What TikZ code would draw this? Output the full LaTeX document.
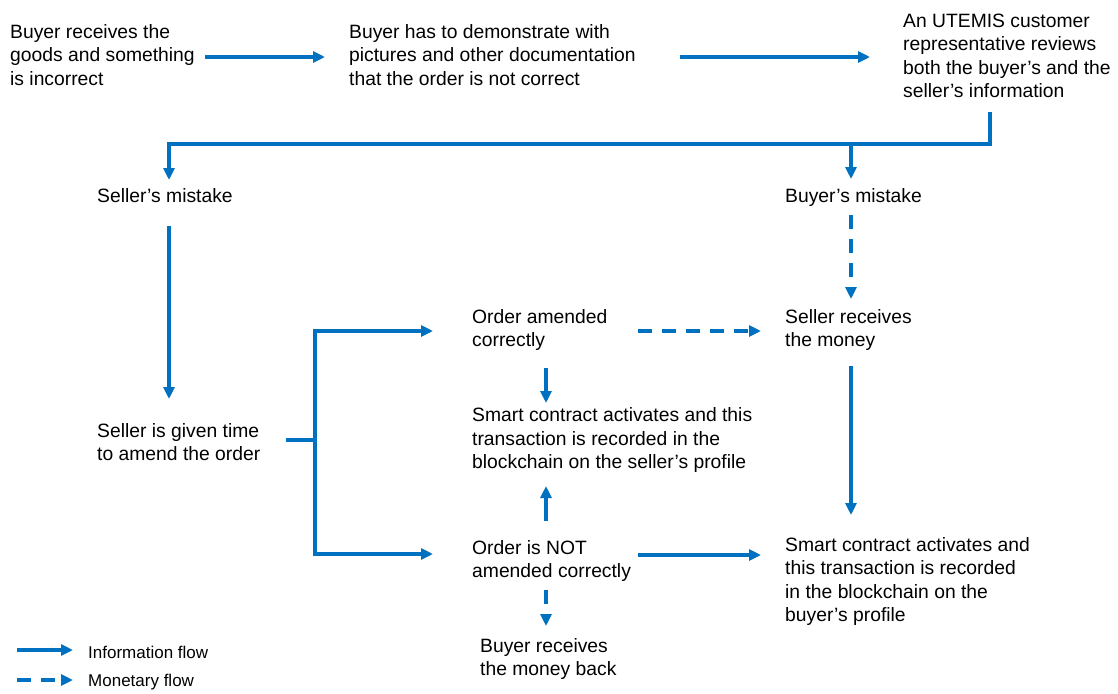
\documentclass[tikz,border=0pt]{standalone}
\usepackage{fontspec}
\setmainfont{Liberation Sans}
\usetikzlibrary{arrows.meta}
\definecolor{flow}{HTML}{0070C0}
\newcommand\fh{\rule{0pt}{14pt}}
\begin{document}
\begin{tikzpicture}[x=1pt,y=-1pt,
  txt/.style={anchor=north west,inner sep=0pt,align=left,font=\fontsize{19.3}{23.3}\selectfont},
  legtxt/.style={anchor=west,inner sep=0pt,font=\fontsize{17}{18}\selectfont},
  info/.style={draw=flow,line width=3.1pt,-{Triangle[length=12pt,width=11pt]}},
  money/.style={info,dash pattern=on 14pt off 10pt},
  plain/.style={draw=flow,line width=3.1pt}]
\useasboundingbox (0,0) rectangle (1118,693);
% text nodes (north west at top of first line)
\node[txt] (n1) at (10,24.3) {\fh Buyer receives the\\goods and something\\is incorrect};
\node[txt] (n2) at (349,24.3) {\fh Buyer has to demonstrate with\\pictures and other documentation\\that the order is not correct};
\node[txt] (n3) at (903,13.3) {\fh An UTEMIS customer\\representative reviews\\both the buyer’s and the\\seller’s information};
\node[txt] (n4) at (97,188.3) {\fh Seller’s mistake};
\node[txt] (n5) at (785,188.3) {\fh Buyer’s mistake};
\node[txt] (n6) at (97,423.3) {\fh Seller is given time\\to amend the order};
\node[txt] (n7) at (472,309.3) {\fh Order amended\\correctly};
\node[txt] (n8) at (785,309.3) {\fh Seller receives\\the money};
\node[txt] (n9) at (472,407.7) {\fh Smart contract activates and this\\transaction is recorded in the\\blockchain on the seller’s profile};
\node[txt] (n10) at (472,540.3) {\fh Order is NOT\\amended correctly};
\node[txt] (n11) at (785,537.3) {\fh Smart contract activates and\\this transaction is recorded\\in the blockchain on the\\buyer’s profile};
\node[txt] (n12) at (480,638.3) {\fh Buyer receives\\the money back};
\node[legtxt] (l1) at (88,652) {Information flow};
\node[legtxt] (l2) at (88,682) {Monetary flow};
% connector coordinates
\coordinate (a1) at (205,57); \coordinate (b1) at (325,57);
\coordinate (a2) at (680,57); \coordinate (b2) at (870,57);
\coordinate (c0) at (990,112); \coordinate (c1) at (990,144);
\coordinate (c2) at (169,144); \coordinate (c3) at (169,180);
\coordinate (c4) at (851,144); \coordinate (c5) at (851,179);
\coordinate (d1) at (169,226); \coordinate (d2) at (169,399);
\coordinate (e1) at (851,215); \coordinate (e2) at (851,299);
\coordinate (f0) at (286,440); \coordinate (f1) at (315,440);
\coordinate (f2) at (315,331); \coordinate (f3) at (433,331);
\coordinate (f4) at (315,554); \coordinate (f5) at (433,554);
\coordinate (g1) at (638,331); \coordinate (g2) at (761,331);
\coordinate (h1) at (546,368); \coordinate (h2) at (546,403);
\coordinate (i1) at (546,521); \coordinate (i2) at (546,486);
\coordinate (j1) at (638,555); \coordinate (j2) at (761,555);
\coordinate (k1) at (851,366); \coordinate (k2) at (851,515);
\coordinate (m1) at (546,590); \coordinate (m2) at (546,626);
\coordinate (L1a) at (17,650); \coordinate (L1b) at (73,650);
\coordinate (L2a) at (17,680); \coordinate (L2b) at (73,680);
% connectors
\draw[info] (a1) -- (b1);
\draw[info] (a2) -- (b2);
\draw[info,line join=miter] (c0) -- (c1) -- (c2) -- (c3);
\draw[info] (c4) -- (c5);
\draw[info] (d1) -- (d2);
\draw[money] (e1) -- (e2);
\draw[plain] (f0) -- (f1);
\draw[info] (f1) -- (f2) -- (f3);
\draw[info] (f1) -- (f4) -- (f5);
\draw[money] (g1) -- (g2);
\draw[info] (h1) -- (h2);
\draw[info] (i1) -- (i2);
\draw[info] (j1) -- (j2);
\draw[info] (k1) -- (k2);
\draw[money] (m1) -- (m2);
\draw[info] (L1a) -- (L1b);
\draw[money] (L2a) -- (L2b);
\end{tikzpicture}
\end{document}
